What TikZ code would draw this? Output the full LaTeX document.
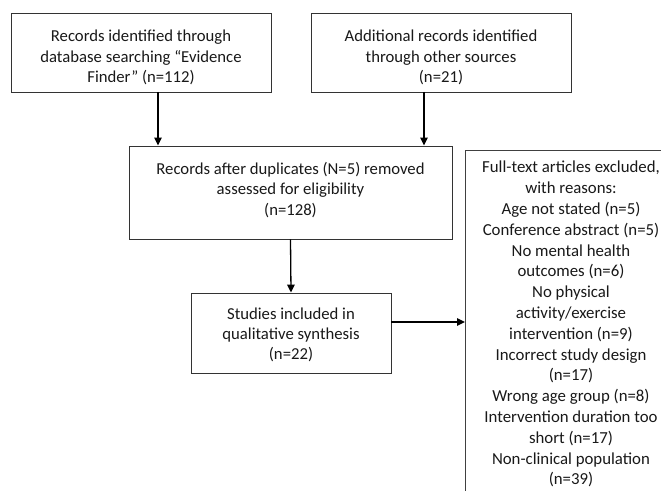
\documentclass[tikz,border=0pt]{standalone}
\usepackage{fontspec}
\setmainfont{Carlito}
\usetikzlibrary{arrows.meta}
\tikzset{
  box/.style={draw=black!80, line width=0.9bp, inner sep=0pt},
  txt/.style={inner sep=0pt, align=center,
    font=\fontsize{16.7bp}{20.3bp}\selectfont, text=black!90},
  listtxt/.style={inner sep=0pt, align=center,
    font=\fontsize{16.8bp}{20.8bp}\selectfont, text=black!90},
  arr/.style={line width=1.3bp, draw=black, -{Triangle[length=8bp,width=7.5bp]}}
}
\begin{document}
\begin{tikzpicture}[x=1bp,y=-1bp]
\useasboundingbox (0,0) rectangle (661,491);
\clip (0,0) rectangle (661,491);
\fill[white] (0,0) rectangle (661,491);
% boxes
\node[box, minimum width=260bp, minimum height=79bp] (b1) at (141,52.5) {};
\node[box, minimum width=260bp, minimum height=79bp] (b2) at (441,52.5) {};
\node[box, minimum width=323bp, minimum height=93bp] (b3) at (290.5,192.5) {};
\node[box, minimum width=200bp, minimum height=80bp] (b4) at (291,333) {};
\node[box, draw=black!75, minimum width=212bp, minimum height=380bp,
  anchor=north west] (b5) at (465,150) {};
% texts
\node[txt] (t1) at ([yshift=-5bp]b1.center)
  {Records identified through\\database searching “Evidence\\Finder” (n=112)};
\node[txt] (t2) at ([yshift=-5bp]b2.center)
  {Additional records identified\\through other sources\\(n=21)};
\node[txt] (t3) at ([yshift=2.5bp]b3.center)
  {Records after duplicates (N=5) removed\\assessed for eligibility\\(n=128)};
\node[txt] (t4) at ([yshift=-2bp]b4.center)
  {Studies included in\\qualitative synthesis\\(n=22)};
\node[listtxt, anchor=north] (t5) at (571,161)
  {Full-text articles excluded,\\with reasons:\\Age not stated (n=5)\\Conference abstract (n=5)\\No mental health\\outcomes (n=6)\\No physical\\activity/exercise\\intervention (n=9)\\Incorrect study design\\(n=17)\\Wrong age group (n=8)\\Intervention duration too\\short (n=17)\\Non-clinical population\\(n=39)};
% connectors
\coordinate (s1) at (158,92);
\coordinate (s2) at (424,92);
\draw[arr] (s1) -- (s1 |- b3.north);
\draw[arr] (s2) -- (s2 |- b3.north);
\draw[arr] (b3.south) -- (b4.north);
\coordinate (s4) at (391,322);
\draw[arr] (s4) -- (s4 -| b5.west);
\end{tikzpicture}
\end{document}
